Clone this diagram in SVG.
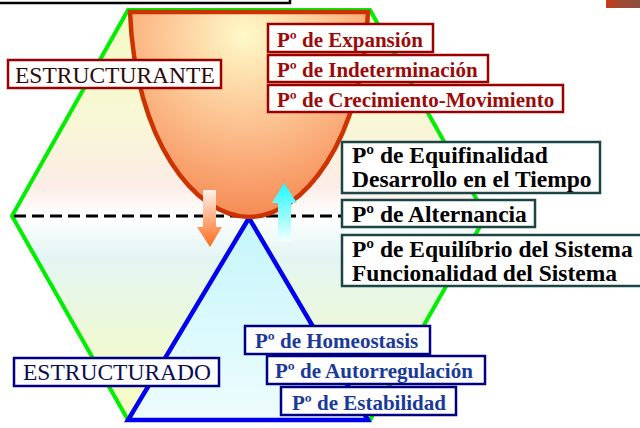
<svg xmlns="http://www.w3.org/2000/svg" width="640" height="428" viewBox="0 0 640 428">
<defs>
<linearGradient id="gUp" x1="0" y1="10" x2="0" y2="216" gradientUnits="userSpaceOnUse">
<stop offset="0" stop-color="#f2fbc2"/>
<stop offset="0.55" stop-color="#f8f7d6"/>
<stop offset="0.85" stop-color="#fbece6"/>
<stop offset="1" stop-color="#ffffff"/>
</linearGradient>
<linearGradient id="gDown" x1="0" y1="216" x2="0" y2="420" gradientUnits="userSpaceOnUse">
<stop offset="0" stop-color="#ffffff"/>
<stop offset="0.2" stop-color="#e3f5f3"/>
<stop offset="0.6" stop-color="#eef9d6"/>
<stop offset="1" stop-color="#f7fcc2"/>
</linearGradient>
<radialGradient id="gPar" cx="245" cy="35" r="200" gradientUnits="userSpaceOnUse">
<stop offset="0" stop-color="#fefac8"/>
<stop offset="0.4" stop-color="#fcc896"/>
<stop offset="1" stop-color="#f5804a"/>
</radialGradient>
<linearGradient id="gTri" x1="0" y1="218" x2="0" y2="420" gradientUnits="userSpaceOnUse">
<stop offset="0" stop-color="#c4f6fb"/>
<stop offset="1" stop-color="#eefcfd"/>
</linearGradient>
<linearGradient id="gDownArrow" x1="0" y1="190" x2="0" y2="247" gradientUnits="userSpaceOnUse">
<stop offset="0" stop-color="#fff2ea"/>
<stop offset="1" stop-color="#ff6a1a"/>
</linearGradient>
<linearGradient id="gUpArrow" x1="0" y1="183" x2="0" y2="241" gradientUnits="userSpaceOnUse">
<stop offset="0" stop-color="#1cf8ff"/>
<stop offset="1" stop-color="#f2ffff"/>
</linearGradient>
<linearGradient id="gPhoto" x1="0" y1="0" x2="1" y2="0">
<stop offset="0" stop-color="#c83c18"/>
<stop offset="0.4" stop-color="#a04a30"/>
<stop offset="1" stop-color="#8a5044"/>
</linearGradient>
<style>
.box{fill:#ffffff;stroke-width:2.5}
.red{stroke:#990000}
.teal{stroke:#1c4646}
.navy{stroke:#000080}
.tr{font-family:"Liberation Serif",serif;font-weight:bold;font-size:21px;fill:#9c0a0a}
.tb{font-family:"Liberation Serif",serif;font-weight:bold;font-size:21px;fill:#1a3a9a}
.tk{font-family:"Liberation Serif",serif;font-weight:bold;font-size:23.5px;fill:#000000}
.tl{font-family:"Liberation Serif",serif;font-size:23.5px}
</style>
</defs>

<rect x="-3" y="-30" width="293" height="33" fill="#ffffff" stroke="#000000" stroke-width="2.5"/>
<rect x="606" y="0" width="34" height="8" fill="url(#gPhoto)"/>

<g id="hexagon">
<polygon points="128,10 370,10 486,216 12,216" fill="url(#gUp)"/>
<polygon points="12,216 486,216 370,420 128,420" fill="url(#gDown)"/>
<polygon points="128,10 370,10 486,216 370,420 128,420 12,216" fill="none" stroke="#00ee00" stroke-width="4" stroke-linejoin="miter"/>
</g>

<g id="connectors">
<line x1="14" y1="216" x2="342" y2="216" stroke="#000000" stroke-width="3" stroke-dasharray="12 6"/>
</g>

<g id="estructurado-triangle">
<polygon points="249,218 128,420 368,420" fill="url(#gTri)" stroke="#0000ee" stroke-width="4.5" stroke-linejoin="miter"/>
</g>

<g id="estructurante-parabola">
<path d="M130,12 C135,140 195,217 249,217 C303,217 363,140 368,12 Z" fill="url(#gPar)" stroke="#cc3300" stroke-width="4.5"/>
</g>

<g id="arrows">
<polygon points="203,190 216,190 216,227 222,227 210,247 197,227 203,227" fill="url(#gDownArrow)"/>
<polygon points="284,183 297,203 291,203 291,241 278,241 278,203 272,203" fill="url(#gUpArrow)"/>
</g>

<g id="estructurante">
<rect class="box red" x="8" y="60" width="213" height="28"/>
<text class="tl" x="15" y="83" fill="#300a0a">ESTRUCTURANTE</text>
</g>

<g id="expansion">
<rect class="box red" x="268" y="24" width="165" height="28"/>
<text class="tr" x="277" y="47">Pº de Expansión</text>
</g>
<g id="indeterminacion">
<rect class="box red" x="268" y="55" width="220" height="27"/>
<text class="tr" x="277" y="77">Pº de Indeterminación</text>
</g>
<g id="crecimiento">
<rect class="box red" x="268" y="85" width="295" height="27"/>
<text class="tr" x="277" y="107">Pº de Crecimiento-Movimiento</text>
</g>

<g id="equifinalidad">
<rect class="box teal" x="342" y="142" width="258" height="51"/>
<text class="tk" x="352" y="163">Pº de Equifinalidad</text>
<text class="tk" x="352" y="187">Desarrollo en el Tiempo</text>
</g>
<g id="alternancia">
<rect class="box teal" x="342" y="200" width="193" height="27"/>
<text class="tk" x="352" y="222">Pº de Alternancia</text>
</g>
<g id="equilibrio">
<rect class="box teal" x="342" y="235" width="310" height="51"/>
<text class="tk" x="352" y="257">Pº de Equilíbrio del Sistema</text>
<text class="tk" x="352" y="281">Funcionalidad del Sistema</text>
</g>

<g id="homeostasis">
<rect class="box navy" x="245" y="326" width="185" height="28"/>
<text class="tb" x="255" y="348">Pº de Homeostasis</text>
</g>
<g id="autorregulacion">
<rect class="box navy" x="267" y="356" width="218" height="28"/>
<text class="tb" x="275" y="378">Pº de Autorregulación</text>
</g>
<g id="estabilidad">
<rect class="box navy" x="281" y="387" width="175" height="28"/>
<text class="tb" x="292" y="410">Pº de Estabilidad</text>
</g>

<g id="estructurado">
<rect class="box navy" x="14" y="358" width="205" height="28"/>
<text class="tl" x="23" y="380" fill="#0c0c50">ESTRUCTURADO</text>
</g>
</svg>
